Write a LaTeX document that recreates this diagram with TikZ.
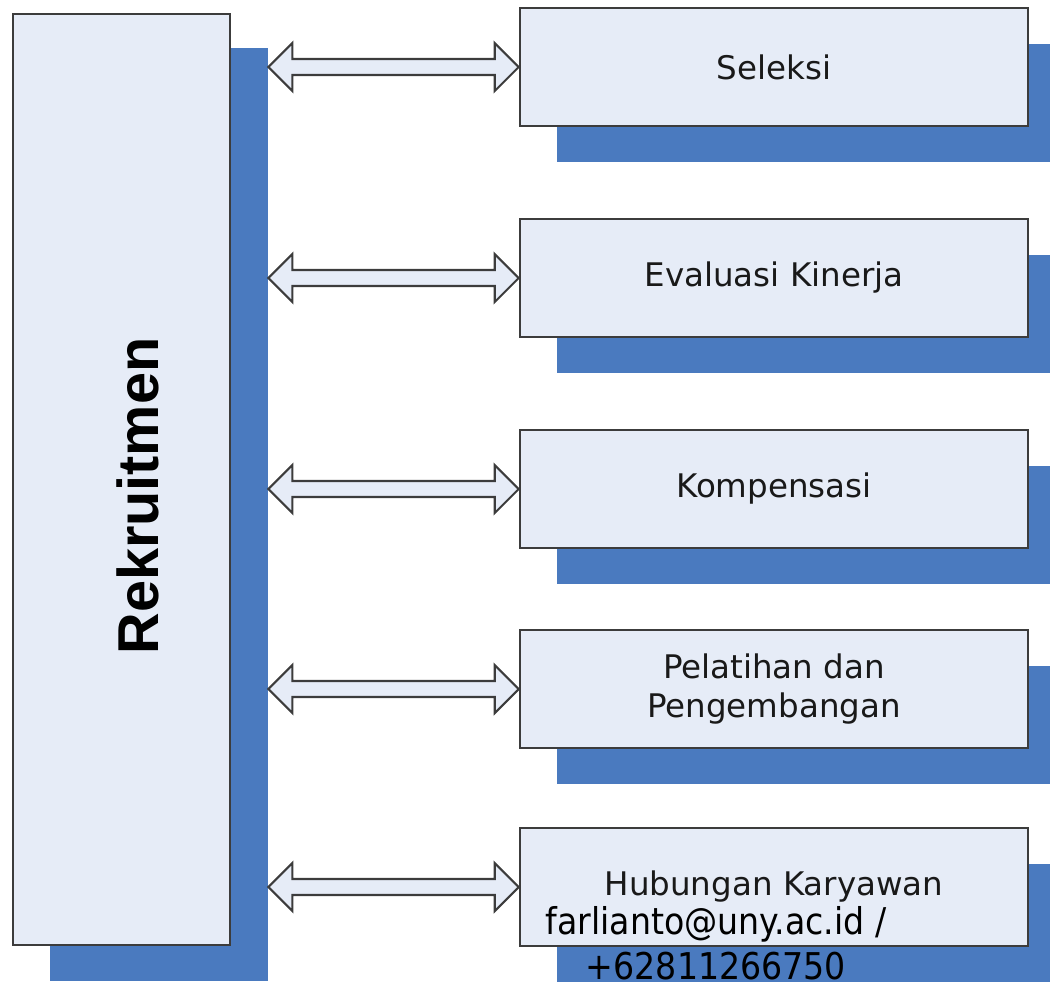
\documentclass[tikz,border=0pt]{standalone}
\usepackage{fontspec}
\setmainfont{DejaVu Sans}
\newfontfamily\rekfont{Liberation Sans}
\newfontfamily\mailfont[FakeStretch=0.9]{DejaVu Sans}
\usetikzlibrary{calc}
\definecolor{panelfill}{HTML}{E6ECF7}
\definecolor{shadeblue}{HTML}{4A7ABF}
\definecolor{edgegray}{HTML}{3C3C3C}
\tikzset{
  panel/.style={draw=edgegray,fill=panelfill,line width=1.5pt,align=center,inner sep=0pt,text=black!90},
  shade/.style={fill=shadeblue,inner sep=0pt},
  sidebox/.style={panel,minimum width=10.16cm,minimum height=2.36cm,font=\fontsize{18.5}{22.7}\selectfont},
  sideshade/.style={shade,minimum width=10.16cm,minimum height=2.36cm},
  fatarrow/.style={draw=edgegray,fill=panelfill,line width=1.2pt,line join=miter},
}

\begin{document}
\begin{tikzpicture}[x=0.02cm,y=-0.02cm]
  \clip (0,0) rectangle (1050,981);
  \node[shade,minimum width=4.36cm,minimum height=18.66cm] (rks) at (159,514.5) {};
  \node[panel,minimum width=4.34cm,minimum height=18.62cm] (rek) at (121.5,479.5) {};
  \node[rotate=90,inner sep=0pt,font=\rekfont\bfseries\fontsize{32.8}{36}\selectfont] (rekl) at (138,496) {Rekruitmen};
  \foreach \n/\y/\t in {sel/67/Seleksi,eva/278/Evaluasi Kinerja,kom/489/Kompensasi,pel/689/{Pelatihan dan\\Pengembangan},hub/887/Hubungan Karyawan} {
    \node[sideshade] (\n s) at (811,\y+36) {};
    \node[sidebox] (\n) at (774,\y) {\t};
  }
  % hollow double arrows
  \foreach \n in {sel,eva,kom,pel,hub} {
    \coordinate (l) at (rks.east |- \n.west);
    \draw[fatarrow] (l) -- ++(24,-24) -- ++(0,16) -- ($(\n.west)+(-24,-8)$) -- ++(0,-16) -- (\n.west)
      -- ++(-24,24) -- ++(0,-16) -- ($(l)+(24,8)$) -- ++(0,16) -- cycle;
  }
  \node[font=\mailfont\fontsize{21}{25.5}\selectfont,align=center,anchor=north,inner sep=0pt] (mail) at (716,906) {farlianto@uny.ac.id /\\+62811266750};
\end{tikzpicture}
\end{document}
